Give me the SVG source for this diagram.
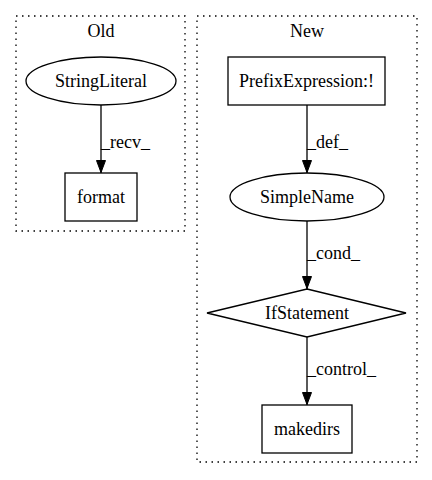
<svg xmlns="http://www.w3.org/2000/svg" width="432" height="480" viewBox="0 0 432 480">
<defs>
<style>
text{font-family:"Liberation Serif","Times New Roman",serif;font-size:18px;fill:#000}
.t{text-anchor:middle}
.cl{fill:none;stroke:#000;stroke-width:1.3;stroke-dasharray:1.5,4.5}
.n{fill:#fff;stroke:#000;stroke-width:1.3}
.e{fill:none;stroke:#000;stroke-width:1.3}
</style>
<marker id="ah" markerWidth="13" markerHeight="10" refX="13" refY="5" orient="auto" markerUnits="userSpaceOnUse">
<polygon points="0.5,0.5 12.5,5 0.5,9.5" fill="#000" stroke="#000"/>
</marker>
</defs>
<rect width="432" height="480" fill="#fff"/>
<g id="cluster_old">
<rect class="cl" x="16" y="16" width="169" height="215"/>
<text class="t" x="101" y="37">Old</text>
</g>
<g id="cluster_new">
<rect class="cl" x="197" y="16" width="220" height="446"/>
<text class="t" x="307" y="37">New</text>
</g>
<g id="connectors">
<path class="e" d="M101,105 L101,173" marker-end="url(#ah)"/>
<text x="101" y="148">_recv_</text>
<path class="e" d="M307,105 L307,173" marker-end="url(#ah)"/>
<text x="307" y="148">_def_</text>
<path class="e" d="M307,221 L307,289" marker-end="url(#ah)"/>
<text x="307" y="259">_cond_</text>
<path class="e" d="M307,337 L307,405" marker-end="url(#ah)"/>
<text x="307" y="375">_control_</text>
</g>
<g id="StringLiteral">
<ellipse class="n" cx="101" cy="81" rx="75" ry="24"/>
<text class="t" x="101" y="87">StringLiteral</text>
</g>
<g id="format">
<rect class="n" x="65" y="173" width="72" height="48"/>
<text class="t" x="101" y="203">format</text>
</g>
<g id="PrefixExpression">
<rect class="n" x="228" y="57" width="157" height="48"/>
<text class="t" x="306.5" y="87">PrefixExpression:!</text>
</g>
<g id="SimpleName">
<ellipse class="n" cx="307" cy="197" rx="77" ry="24"/>
<text class="t" x="307" y="203">SimpleName</text>
</g>
<g id="IfStatement">
<polygon class="n" points="307,289 406,313 307,337 207,313"/>
<text class="t" x="307" y="319">IfStatement</text>
</g>
<g id="makedirs">
<rect class="n" x="262" y="405" width="90" height="48"/>
<text class="t" x="307" y="435">makedirs</text>
</g>
</svg>
